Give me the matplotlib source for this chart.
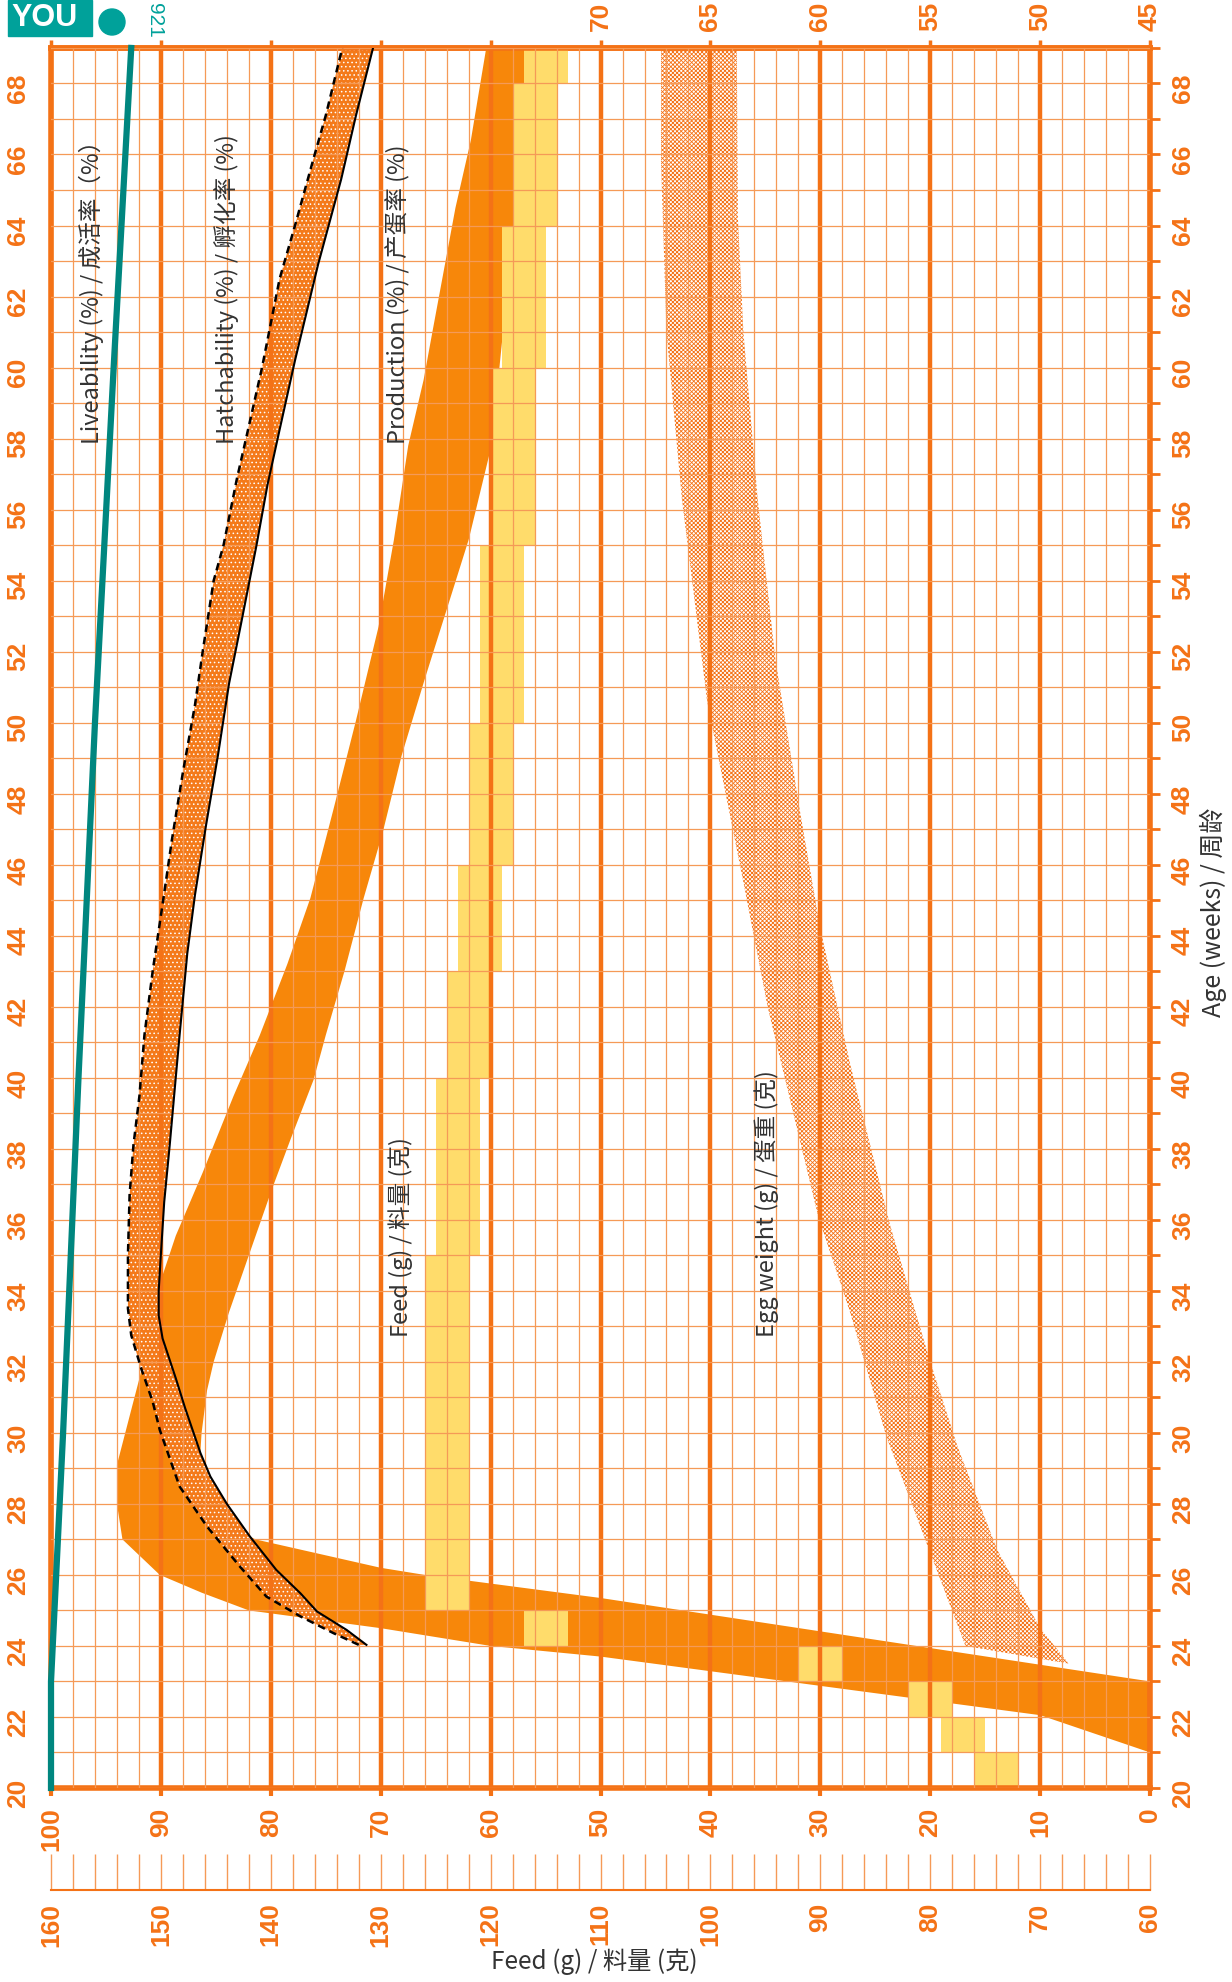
import matplotlib.pyplot as plt
import numpy as np
from matplotlib.ticker import MultipleLocator
from matplotlib.patches import Rectangle, Ellipse

ORANGE = '#F47216'
GRID = '#F59A57'
BAND = '#F7870A'
TEAL = '#00867F'
YELLOW = '#FFDC6B'
TEXT = '#333333'

plt.rcParams['font.family'] = ['Liberation Sans Narrow', 'Liberation Sans', 'DejaVu Sans']
plt.rcParams['font.weight'] = 'bold'
plt.rcParams['hatch.linewidth'] = 0.6
CJK = ['Noto Sans CJK SC', 'DejaVu Sans']

# liveability (%)
live_weeks = [20, 23, 30, 40, 50, 60, 69]
live = [100, 100, 98.9, 97.5, 96.0, 94.3, 92.7]

# hatchability (%) - upper (dashed) and lower (solid) limits
hatch_hi_weeks = [24.03, 24.36, 24.83, 25.39, 26.23, 27.36, 28.49, 30.08, 30.88, 31.82, 32.75,
                  33.5, 35.0, 36.7, 38.1, 39.5, 41.2, 43.0, 45.2, 46.7, 48.6, 50.5, 52.0,
                  54.0, 55.0, 56.85, 58.35, 60.0, 61.25, 62.5, 64.0, 65.9, 67.1, 69.0]
hatch_hi = [72.0, 74.3, 77.3, 80.4, 82.8, 85.8, 88.3, 90.1, 90.75, 91.8, 92.7,
            93.0, 93.0, 92.85, 92.5, 91.95, 91.5, 90.75, 89.7, 89.0, 88.0, 86.9, 86.2,
            85.2, 84.3, 83.1, 82.0, 80.8, 80.0, 79.2, 77.8, 76.1, 75.0, 73.5]
hatch_lo_weeks = [24.03, 24.45, 24.97, 25.48, 26.14, 27.08, 28.0, 28.77, 29.43, 30.7, 31.54,
                  32.66, 33.3, 34.0, 34.8, 36.5, 38.1, 40.0, 41.2, 43.5, 45.15, 47.1, 49.1,
                  51.1, 52.8, 55.0, 56.7, 58.25, 60.2, 62.9, 65.3, 67.1, 69.0]
hatch_lo = [71.3, 73.1, 75.8, 77.3, 79.5, 81.9, 84.0, 85.5, 86.4, 87.8, 88.65,
            89.85, 90.2, 90.2, 90.05, 89.7, 89.2, 88.65, 88.3, 87.6, 86.9, 85.9, 84.8,
            83.8, 82.7, 81.3, 80.3, 79.2, 77.8, 75.7, 73.6, 72.25, 70.7]

# production (%) - upper and lower limits
prod_hi_weeks = [21.0, 22.05, 23.7, 24.0, 24.5, 25.0, 25.5, 26.0, 27.0, 28.0, 29.1, 31.6,
                 34.25, 35.55, 37.33, 39.48, 41.2, 43.2, 45.06, 47.5, 50.0, 52.7, 55.15,
                 57.8, 59.65, 61.0, 64.5, 66.4, 69.0]
prod_hi = [0, 10, 50, 60, 70, 82, 86.3, 90.1, 93.5, 94.0, 94.0, 91.9,
           90.05, 88.65, 86.2, 83.4, 81.0, 78.5, 76.4, 74.35, 72.3, 70.2, 68.8,
           67.5, 66.1, 65.3, 63.2, 61.8, 60.4]
prod_lo_weeks = [23.0, 25.35, 26.0, 26.2, 27.0, 27.5, 28.0, 29.0, 30.0, 31.2, 32.0, 33.4,
                 35.0, 36.86, 38.27, 39.95, 41.2, 43.0, 45.06, 46.93, 49.07, 51.22, 53.28,
                 55.15, 57.7, 60.0, 64.0, 69.0]
prod_lo = [0, 50, 66, 70, 81.4, 84.5, 86.0, 86.5, 86.3, 85.8, 85.2, 83.8,
           82.0, 79.9, 78.2, 76.1, 75.0, 73.3, 71.55, 69.8, 68.1, 66.0, 63.9,
           62.0, 60.0, 59.2, 57.9, 56.3]

# egg weight (g) - upper and lower limits
egg_hi_weeks = [24.0, 26.7, 29.9, 33.4, 36.1, 42.0, 45.5, 50.6, 56.3, 61.0, 65.8, 69.0]
egg_hi = [53.4, 55.05, 57.0, 58.65, 60.1, 62.4, 63.5, 65.15, 66.3, 67.0, 67.25, 67.25]
egg_lo_weeks = [23.5, 24.5, 26.7, 29.6, 32.1, 35.9, 40.4, 44.2, 47.4, 51.8, 56.3, 61.0, 64.2, 69.0]
egg_lo = [48.7, 50.0, 51.95, 53.75, 55.05, 56.85, 58.65, 60.0, 60.9, 62.05, 62.85, 63.5, 63.75, 63.8]

# feed (g/day) steps
feed_start = [20, 21, 22, 23, 24, 25, 35, 40, 43, 46, 50, 55, 60, 64, 68]
feed_end = [21, 22, 23, 24, 25, 35, 40, 43, 46, 50, 55, 60, 64, 68, 69]
feed_lo = [72, 75, 78, 88, 113, 122, 121, 120, 119, 118, 117, 116, 115, 114, 113]
feed_hi = [76, 79, 82, 92, 117, 126, 125, 124, 123, 122, 121, 120, 119, 118, 117]


def pct_to_egg(p):
    return 45 + np.asarray(p) / 2


def egg_to_pct(g):
    return (np.asarray(g) - 45) * 2


def feed_to_pct(g):
    return np.asarray(g) - 60


fig = plt.figure(figsize=(12.32, 19.82), dpi=100)
L, B, W, H = 0.0414, 0.0979, 0.8921, 0.8779
ax = fig.add_axes([L, B, W, H])
ax.set_xlim(100, 0)
ax.set_ylim(20, 69)

# egg weight band
ex = list(egg_to_pct(egg_hi)) + list(egg_to_pct(egg_lo))[::-1]
ey = egg_hi_weeks + egg_lo_weeks[::-1]
ax.fill(ex, ey, facecolor='none', edgecolor=ORANGE, hatch='xxxxxxxx', lw=0, zorder=1.1)

# production band
ax.fill(prod_hi + prod_lo[::-1], prod_hi_weeks + prod_lo_weeks[::-1], color=BAND, lw=0, zorder=1.3)

# feed steps
f_lo = feed_to_pct(feed_lo)
f_hi = feed_to_pct(feed_hi)
ax.barh(feed_start, f_hi - f_lo, height=np.array(feed_end) - np.array(feed_start), left=f_lo,
        align='edge', color=YELLOW, lw=0, zorder=1.6)

# hatchability band
ax.fill(hatch_hi + hatch_lo[::-1], hatch_hi_weeks + hatch_lo_weeks[::-1],
        facecolor='#F47A1A', edgecolor='white', hatch='....', lw=0, zorder=2)
ax.plot(hatch_hi, hatch_hi_weeks, color='black', ls=(0, (3, 2)), lw=1.8, zorder=5)
ax.plot(hatch_lo, hatch_lo_weeks, color='black', lw=1.5, zorder=5)

# liveability
ax.plot(live, live_weeks, color=TEAL, lw=4.5, zorder=6, clip_on=False)

# grid
ax.set_xticks(np.arange(0, 101, 10))
ax.xaxis.set_minor_locator(MultipleLocator(2))
ax.set_yticks(np.arange(20, 69, 2))
ax.yaxis.set_minor_locator(MultipleLocator(1))
ax.grid(which='minor', color=GRID, lw=0.9)
ax.grid(which='major', axis='y', color=GRID, lw=0.9)
ax.grid(which='major', axis='x', color=ORANGE, lw=3.2)
ax.set_axisbelow(False)
for s in ax.spines.values():
    s.set_color(ORANGE)
    s.set_linewidth(4)

ax.tick_params(axis='x', which='major', direction='out', length=6, width=3, color=ORANGE,
               labelcolor=ORANGE, labelsize=19, labelrotation=90, pad=8)
ax.tick_params(axis='x', which='minor', length=0)
ax.tick_params(axis='y', which='both', left=False, right=True, labelleft=True, labelright=True,
               direction='out', length=7, width=2, color=ORANGE)
ax.tick_params(axis='y', which='major', labelcolor=ORANGE, labelsize=19, labelrotation=90, pad=8)

# egg weight scale on top
sec = ax.secondary_xaxis('top', functions=(pct_to_egg, egg_to_pct))
egg_ticks = np.arange(45, 96, 5)
sec.set_xticks(egg_ticks)
sec.set_xticklabels([str(v) if v <= 70 else '' for v in egg_ticks])
sec.tick_params(direction='out', length=6, width=2.5, color=ORANGE, labelcolor=ORANGE,
                labelsize=19, labelrotation=90, pad=6)
sec.spines['top'].set_color(ORANGE)
sec.spines['top'].set_linewidth(4)

# feed ruler
fax = fig.add_axes([L, 0.0464, W, 0.0185])
fax.set_xlim(160, 60)
fax.set_ylim(0, 1)
fax.set_yticks([])
for s in ['top', 'left', 'right']:
    fax.spines[s].set_visible(False)
fax.spines['bottom'].set_color(ORANGE)
fax.spines['bottom'].set_linewidth(1.5)
fax.patch.set_alpha(0)
fax.xaxis.set_major_locator(MultipleLocator(10))
fax.xaxis.set_minor_locator(MultipleLocator(2))
fax.tick_params(axis='x', which='both', direction='in', length=26, width=1, color=GRID)
fax.tick_params(axis='x', which='major', labelcolor=ORANGE, labelsize=19, labelrotation=90, pad=9)

# labels inside
lab = dict(rotation=90, rotation_mode='anchor', ha='left', va='center', fontsize=17,
           color=TEXT, family=CJK, weight='normal', zorder=7)
ax.text(96.3, 57.85, 'Liveability (%) / 成活率（%）', **lab)
ax.text(84.0, 57.85, 'Hatchability (%) / 孵化率 (%)', **lab)
ax.text(68.4, 57.85, 'Production (%) / 产蛋率 (%)', **lab)
ax.text(68.2, 32.7, 'Feed (g) / 料量 (克)', **lab)
ax.text(34.9, 32.7, 'Egg weight (g) / 蛋重 (克)', **lab)

fig.text(0.9846, 0.5399, 'Age (weeks) / 周龄', rotation=90, ha='center', va='center',
         fontsize=18, color=TEXT, family=CJK, weight='normal')
fig.text(0.482, 0.0101, 'Feed (g) / 料量 (克)', ha='center', va='center',
         fontsize=17.5, color=TEXT, family=CJK, weight='normal')

# logo
fig.patches.append(Rectangle((8 / 1232, 1 - 36 / 1982), 84 / 1232, 36 / 1982,
                             transform=fig.transFigure, color='#00A19A'))
fig.patches.append(Ellipse((112 / 1232, 1 - 22 / 1982), 26 / 1232, 26 / 1982,
                           transform=fig.transFigure, color='#00A19A'))
fig.text(45 / 1232, 1 - 18 / 1982, 'YOU', ha='center', va='center', color='white',
         fontsize=22, weight='bold')
fig.text(154 / 1232, 1 - 20 / 1982, '921', rotation=-90, ha='center', va='center',
         color='#00A19A', fontsize=15, weight='normal')

fig.savefig('out.png', dpi=100)
